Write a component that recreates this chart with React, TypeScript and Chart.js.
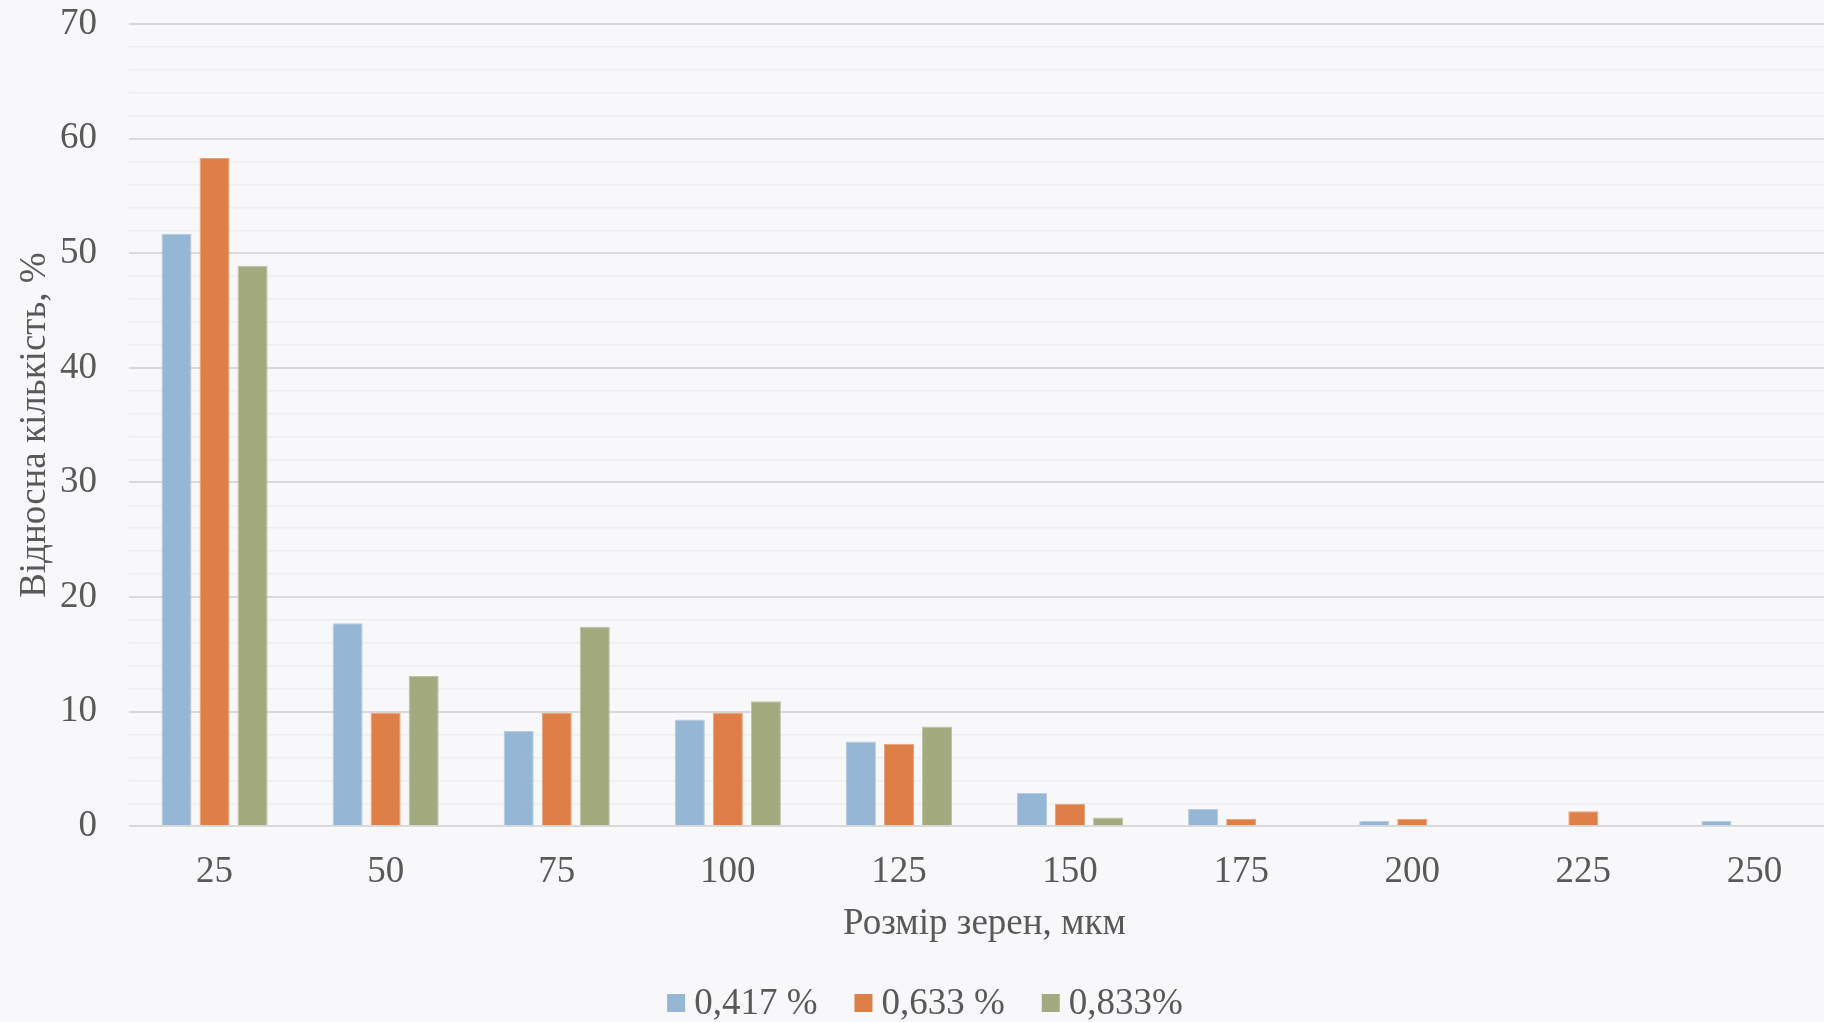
import React, { useEffect, useRef } from "react";
import { Chart, registerables } from "chart.js";

Chart.register(...registerables);

const categories = ["25", "50", "75", "100", "125", "150", "175", "200", "225", "250"];
const series417 = [51.7, 17.7, 8.3, 9.3, 7.4, 2.9, 1.5, 0.45, 0, 0.45];
const series633 = [58.3, 9.9, 9.9, 9.9, 7.2, 1.95, 0.65, 0.65, 1.3, 0];
const series833 = [48.9, 13.1, 17.4, 10.9, 8.7, 0.75, 0, 0, 0, 0];
const seriesLabels = ["0,417 %", "0,633 %", "0,833%"];
const yMin = 0;
const yMax = 70;
const yMinorStep = 2;
const yMajorStep = 10;
const xTitle = "Розмір зерен, мкм";
const yTitle = "Відносна кількість, %";

const FONT = "'Liberation Serif', 'Times New Roman', serif";
const TEXT_COLOR = "#595959";
const BG = "#F8F7FA";
const COLORS = ["#95B6D4", "#DE7F47", "#A4AA7F"];
const BORDERS = ["#B4CBE0", "#E8A17A", "#BDC2A0"];
const CLEAR = "rgba(0,0,0,0)";

const W = 1840;
const H = 1022;

const bgPlugin = {
  id: "bg",
  beforeDraw(chart: any) {
    const { ctx } = chart;
    ctx.save();
    ctx.fillStyle = BG;
    ctx.fillRect(0, 0, chart.width, chart.height);
    ctx.restore();
  },
};

const legendPlugin = {
  id: "customLegend",
  afterDraw(chart: any) {
    const { ctx } = chart;
    ctx.save();
    ctx.font = `37px ${FONT}`;
    const box = 18;
    const gapText = 9;
    const gapItem = 37;
    const items = chart.data.datasets.map((ds: any) => ({
      label: ds.label as string,
      color: ds.backgroundColor as string,
      w: ctx.measureText(ds.label).width,
    }));
    const total =
      items.reduce((s: number, it: any) => s + box + gapText + it.w, 0) +
      gapItem * (items.length - 1);
    const cx = 925;
    const cy = 1004;
    let x = cx - total / 2;
    ctx.textBaseline = "middle";
    ctx.textAlign = "left";
    for (const it of items) {
      ctx.fillStyle = it.color;
      ctx.fillRect(x, cy - 1 - box / 2, box, box);
      x += box + gapText;
      ctx.fillStyle = TEXT_COLOR;
      ctx.fillText(it.label, x, cy);
      x += it.w + gapItem;
    }
    ctx.restore();
  },
};

export default function App() {
  const ref = useRef<HTMLCanvasElement | null>(null);

  useEffect(() => {
    document.body.style.overflow = "hidden";
    document.body.style.background = BG;
    const canvas = ref.current;
    if (!canvas) return;
    const datasets = [series417, series633, series833].map((data, i) => ({
      label: seriesLabels[i],
      data,
      backgroundColor: COLORS[i],
      borderColor: BORDERS[i],
      borderWidth: (c: any) => (c.raw ? 1 : 0),
      categoryPercentage: 0.667,
      barPercentage: 0.79,
    }));
    const chart = new Chart(canvas, {
      type: "bar",
      data: { labels: categories, datasets },
      plugins: [bgPlugin, legendPlugin],
      options: {
        animation: false,
        responsive: false,
        maintainAspectRatio: false,
        devicePixelRatio: 1,
        layout: { padding: { top: 24, left: 10, right: 0, bottom: 76 } },
        plugins: {
          legend: { display: false },
          tooltip: { enabled: false },
        },
        scales: {
          x: {
            grid: {
              display: true,
              drawOnChartArea: false,
              drawTicks: true,
              tickLength: 24,
              tickColor: CLEAR,
              color: CLEAR,
            },
            border: { display: false },
            ticks: {
              color: TEXT_COLOR,
              font: { family: FONT, size: 37 },
              padding: 0,
              maxRotation: 0,
            },
            title: {
              display: true,
              text: xTitle,
              color: TEXT_COLOR,
              font: { family: FONT, size: 37 },
              padding: { top: 7, bottom: 0 },
            },
          },
          y: {
            min: yMin,
            max: yMax,
            border: { display: false },
            grid: {
              drawTicks: true,
              tickLength: 32,
              tickColor: CLEAR,
              color: (c: any) =>
                c.tick && c.tick.value % yMajorStep === 0 ? "#D9D9DB" : "#EEEDF0",
              lineWidth: (c: any) =>
                c.tick && c.tick.value % yMajorStep === 0 ? 2 : 1.5,
            },
            ticks: {
              stepSize: yMinorStep,
              autoSkip: false,
              color: TEXT_COLOR,
              font: { family: FONT, size: 37 },
              padding: 0,
              callback: (v: any) => (Number(v) % yMajorStep === 0 ? String(v) : ""),
            },
            title: {
              display: true,
              text: yTitle,
              color: TEXT_COLOR,
              font: { family: FONT, size: 37 },
              padding: { top: 3, bottom: 2.6 },
            },
          },
        },
      },
    });
    return () => chart.destroy();
  }, []);

  return (
    <div
      style={{
        position: "fixed",
        left: 0,
        top: 0,
        width: W,
        height: H,
        background: BG,
      }}
    >
      <canvas ref={ref} width={W} height={H} style={{ display: "block", width: W, height: H }} />
    </div>
  );
}
